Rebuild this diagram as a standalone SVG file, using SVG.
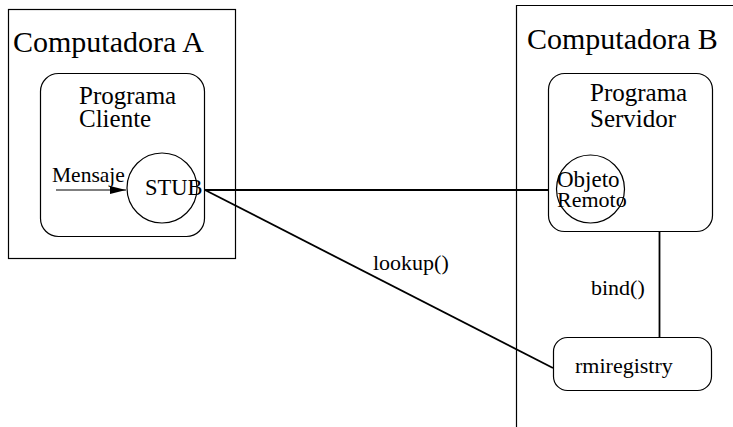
<svg xmlns="http://www.w3.org/2000/svg" width="733" height="427" viewBox="0 0 733 427">
<defs>
<style>
text{font-family:"Liberation Serif","Times New Roman",serif;fill:#000}
.box{fill:none;stroke:#000;stroke-width:1.2}
.conn{fill:none;stroke:#000;stroke-width:1.8}
.big{font-size:30px}
.mid{font-size:25px}
.sm{font-size:22px}
</style>
<marker id="ah" markerWidth="16" markerHeight="8" refX="16" refY="4" orient="auto" markerUnits="userSpaceOnUse">
<path d="M0,0 L16,4 L0,8 Z" fill="#000"/>
</marker>
</defs>
<rect width="733" height="427" fill="#fff"/>
<g id="computadoraA">
<rect class="box" x="8.5" y="9.5" width="227" height="249"/>
<text class="big" x="13" y="52">Computadora A</text>
</g>
<g id="computadoraB">
<path class="box" d="M740,5.5 H516.5 V427"/>
<text class="big" x="527" y="49">Computadora B</text>
</g>
<g id="programaCliente">
<rect class="box" x="40.5" y="73.5" width="164" height="163" rx="18"/>
<text class="mid" x="79" y="104">Programa</text>
<text class="mid" x="79" y="127">Cliente</text>
</g>
<g id="stub">
<circle class="box" cx="162" cy="188" r="35"/>
<text class="sm" x="145" y="195" style="font-size:22.5px">STUB</text>
</g>
<g id="mensaje">
<text x="52" y="182" style="font-size:21.5px">Mensaje</text>
</g>
<g id="programaServidor">
<rect class="box" x="548.5" y="73.5" width="164" height="158" rx="16"/>
<text class="mid" x="590" y="101">Programa</text>
<text class="mid" x="590" y="127">Servidor</text>
</g>
<g id="objetoRemoto">
<circle class="box" cx="590.5" cy="189" r="34"/>
<text class="sm" x="557" y="187" style="font-size:23px">Objeto</text>
<text class="sm" x="557" y="207">Remoto</text>
</g>
<g id="rmiregistry">
<rect class="box" x="553.5" y="337.5" width="158" height="53" rx="14"/>
<text class="sm" x="575" y="373">rmiregistry</text>
</g>
<g id="connectors">
<line class="conn" x1="56" y1="190" x2="126" y2="190" marker-end="url(#ah)" style="stroke-width:1.2"/>
<line class="conn" x1="204" y1="190" x2="548" y2="190"/>
<line class="conn" x1="205" y1="190" x2="553" y2="368"/>
<text class="sm" x="373" y="270">lookup()</text>
<line class="conn" x1="659.5" y1="232" x2="659.5" y2="337"/>
<text class="sm" x="591" y="295">bind()</text>
</g>
</svg>
